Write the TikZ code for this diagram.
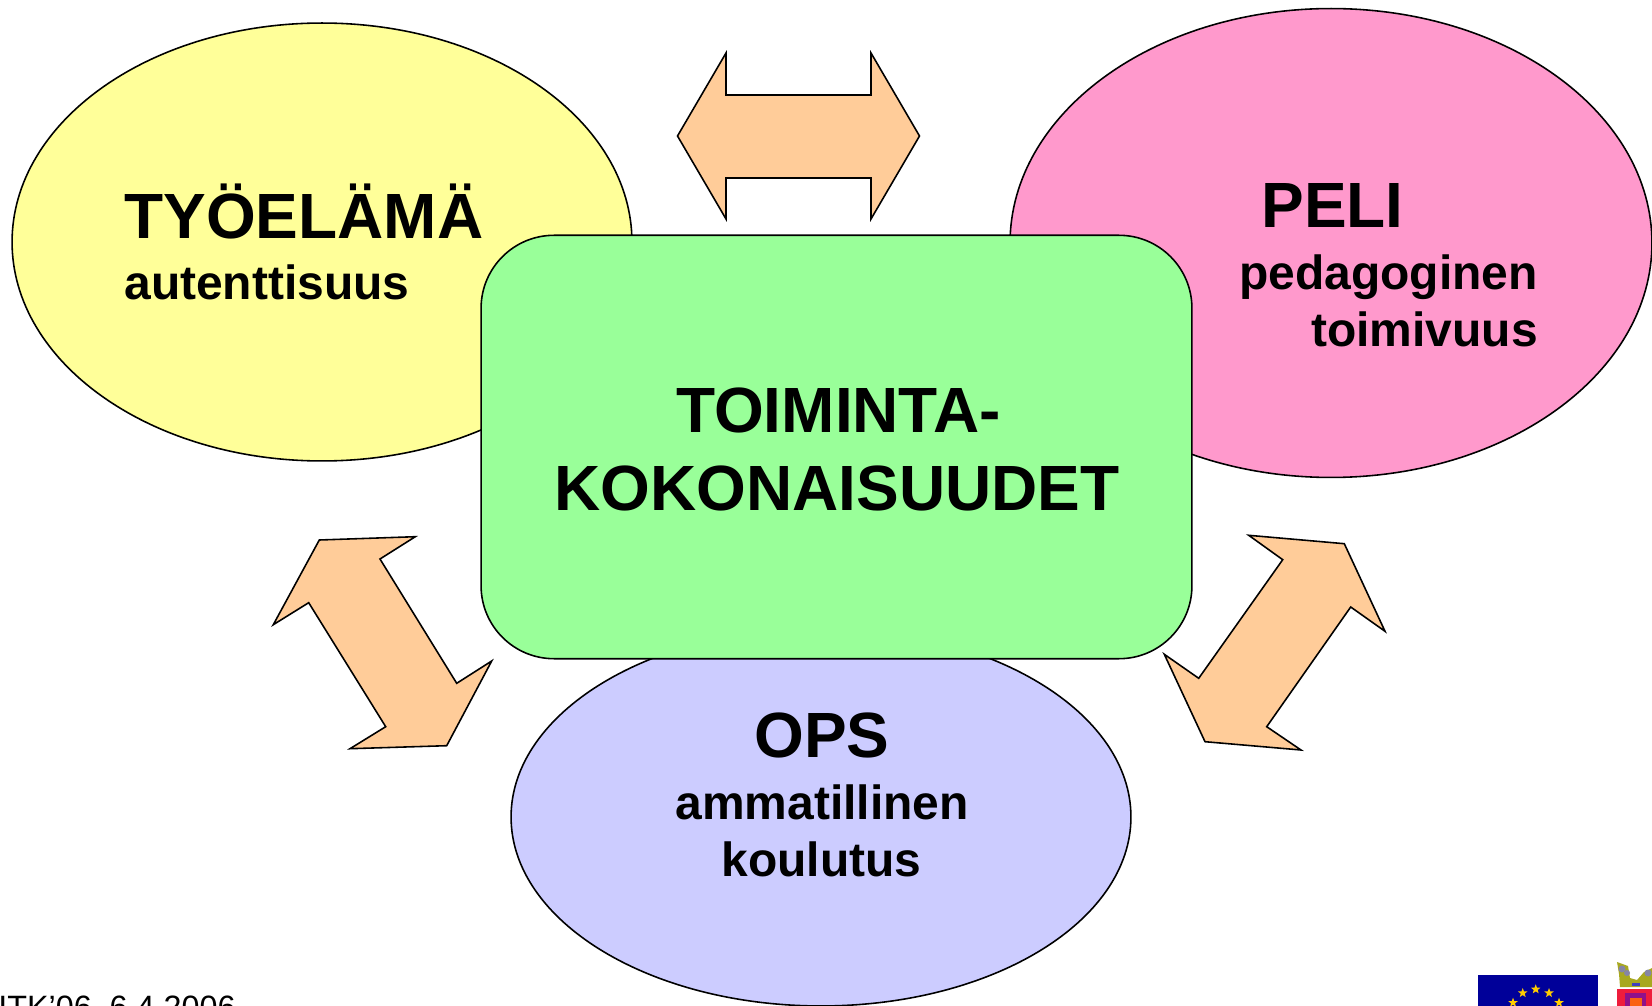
\documentclass[tikz,border=0pt]{standalone}
\usepackage{fontspec}
\setmainfont{Liberation Sans}
\usetikzlibrary{shapes.geometric}
\definecolor{keltainen}{HTML}{FFFF99}
\definecolor{pinkki}{HTML}{FF99CC}
\definecolor{lila}{HTML}{CCCCFF}
\definecolor{vihrea}{HTML}{99FF99}
\definecolor{oranssi}{HTML}{FFCC99}
\definecolor{eusini}{HTML}{000099}
\definecolor{eutahti}{HTML}{FFCC00}
\definecolor{kruunu}{HTML}{A8A820}
\definecolor{vaakuna}{HTML}{EE1C3C}
\begin{document}
\begin{tikzpicture}[x=0.02cm,y=-0.02cm,
    teema/.style ={ellipse, draw, line width=0.9pt, inner sep=0pt},
    keskus/.style ={rectangle, rounded corners=1.46cm, draw, line width=0.9pt, fill=vihrea, inner sep=0pt},
    nuoli/.style ={draw, line width=0.9pt, fill=oranssi, line join=miter},
    otsikko/.style ={font=\bfseries\fontsize{36.4}{36.4}\selectfont, inner sep=0pt},
    alaotsikko/.style ={font=\bfseries\fontsize{27.3}{27.3}\selectfont, inner sep=0pt},
    tahti/.style ={star, star points=5, star point ratio=2.4, fill=eutahti, inner sep=0pt, minimum size=0.2cm}]
   \useasboundingbox (0,0) rectangle (1652,1006);
   \node[teema, fill=keltainen, minimum width=12.4cm, minimum height=8.76cm] (tyoelama) at (322,242) {};
   \node[teema, fill=pinkki, minimum width=12.84cm, minimum height=9.38cm] (peli) at (1331,243) {};
   \node[teema, fill=lila, minimum width=12.4cm, minimum height=7.56cm] (ops) at (821,817) {};
   \node[keskus, minimum width=14.22cm, minimum height=8.47cm] (toiminta) at (836.5,447) {};
   % nuolet
   \draw[nuoli] (677.5,136) -- (726,53) -- (726,95) -- (871,95) -- (871,53) -- (919.5,136)
      -- (871,219) -- (871,178) -- (726,178) -- (726,219) -- cycle;
   \draw[nuoli] (319.3,540) -- (415.3,536.7) -- (380,559) -- (456.7,683.3) -- (491.7,661)
      -- (446.7,745.7) -- (350,748.7) -- (385.7,726.7) -- (308.7,602.7) -- (273.3,624.7) -- cycle;
   \draw[nuoli] (1248.7,535.3) -- (1344.3,543.7) -- (1385,631.3) -- (1350.7,607) -- (1266.7,726.7)
      -- (1301,750) -- (1205,741.7) -- (1164.3,654.3) -- (1198.7,678.3) -- (1282.7,559.7) -- cycle;
   % tekstit
   \node[otsikko, anchor=base west] (tyoelamateksti) at (124,238.5) {TYÖELÄMÄ};
   \node[alaotsikko, anchor=base west] (autenttisuus) at (124,299.5) {autenttisuus};
   \node[otsikko, anchor=base] (peliteksti) at (1332.5,227.5) {PELI};
   \node[alaotsikko, anchor=base east] (pedagoginen) at (1538,289.5) {pedagoginen};
   \node[alaotsikko, anchor=base east] (toimivuus) at (1538,346.5) {toimivuus};
   \node[otsikko, anchor=base] (toimintateksti) at (838.5,433) {TOIMINTA-};
   \node[otsikko, anchor=base] (kokonaisuudet) at (837,510) {KOKONAISUUDET};
   \node[otsikko, anchor=base] (opsteksti) at (822,757) {OPS};
   \node[alaotsikko, anchor=base] (ammatillinen) at (822,819) {ammatillinen};
   \node[alaotsikko, anchor=base] (koulutus) at (821.5,876) {koulutus};
   \node[font=\fontsize{18.4}{18.4}\selectfont, inner sep=0pt, anchor=base west] (paivays) at (-2,1018) {ITK’06, 6.4.2006};
   % logot
   \begin{scope}
   \clip (0,0) rectangle (1652,1006);
   \fill[eusini] (1478,975) rectangle (1598,1010);
   \foreach \tx/\ty/\tn in {1535.7/989.3/a,1522.7/993/b,1549/993/c,1513/1002.7/d,1559/1002.7/e}
      \node[tahti] (tahti\tn) at (\tx,\ty) {};
   \fill[vaakuna] (1616.7,989) rectangle (1652,1010);
   \fill[kruunu] (1617,962) -- (1628,966) -- (1630,978) -- (1637,980) -- (1644,972) -- (1652,968) -- (1652,987) -- (1620,987) -- (1619,974) -- cycle;
   \fill[black!35!lila] (1622,969) circle (3.5);
   \fill[black!35!lila] (1627,973) circle (3);
   \fill[black!35!lila] (1648,973) circle (3.5);
   \fill[blue!50!gray] (1632,983) rectangle (1640,986);
   \fill[blue!40!vaakuna] (1625,993) rectangle (1646,1010);
   \fill[orange!70!vaakuna] (1630,998) rectangle (1642,1010);
   \end{scope}
 \end{tikzpicture}
\end{document}
